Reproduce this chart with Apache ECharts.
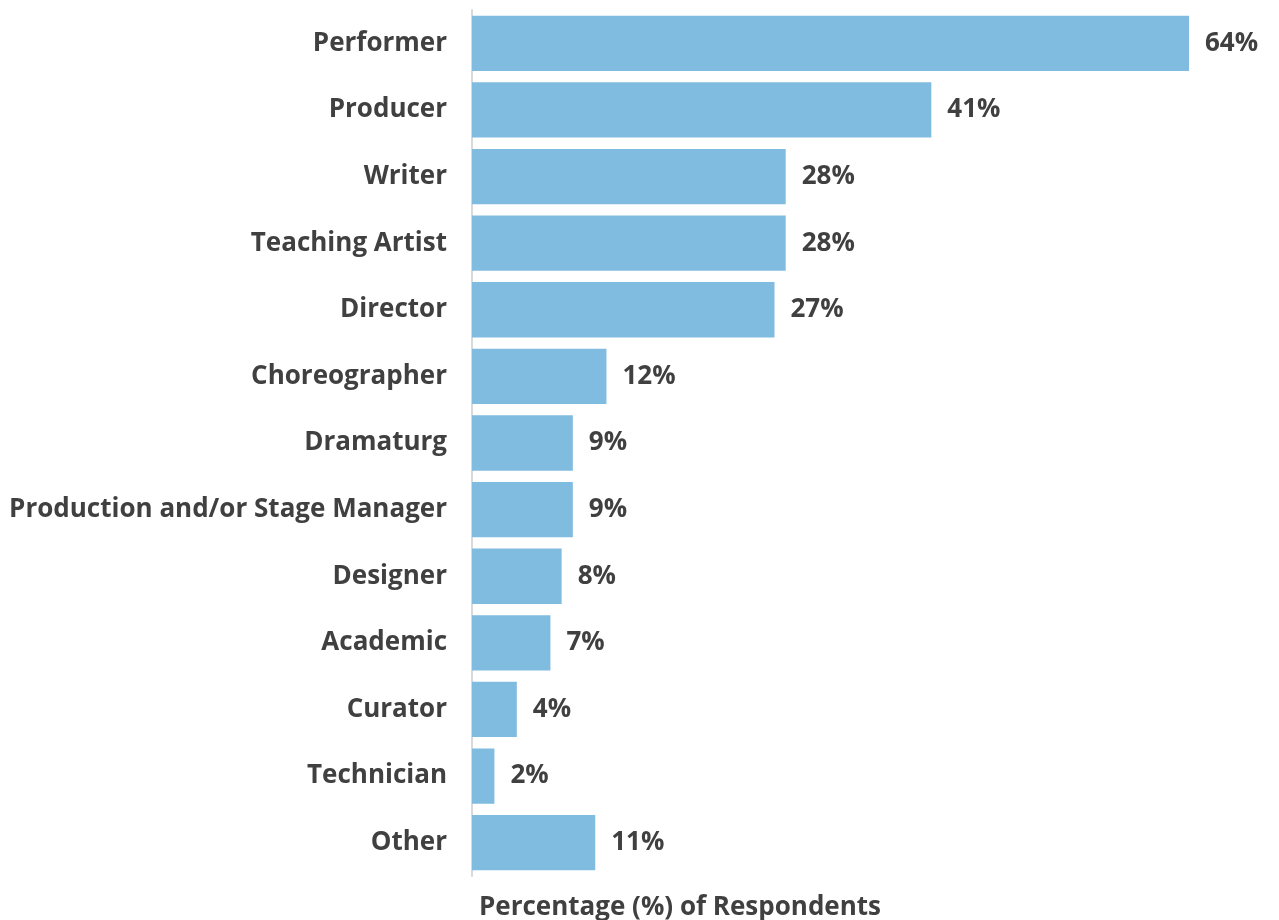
<!DOCTYPE html>
<html>
<head>
<meta charset="utf-8">
<script src="https://cdn.jsdelivr.net/npm/echarts@6/dist/echarts.min.js"></script>
<style>
  html, body { margin: 0; padding: 0; background: #ffffff; }
  #chart { width: 1279px; height: 920px; }
</style>
</head>
<body>
<div id="chart"></div>
<script>
// Roles held by respondents, top to bottom as drawn
const roles = [
  'Performer', 'Producer', 'Writer', 'Teaching Artist', 'Director',
  'Choreographer', 'Dramaturg', 'Production and/or Stage Manager',
  'Designer', 'Academic', 'Curator', 'Technician', 'Other'
];
const shares = [64, 41, 28, 28, 27, 12, 9, 9, 8, 7, 4, 2, 11];
const axisTitle = 'Percentage (%) of Respondents';

const textColor = '#404040';
const fontFamily = '"Open Sans", Roboto, sans-serif';
const fontSize = 26;
const fontWeight = 'bold';

const chart = echarts.init(document.getElementById('chart'));
chart.setOption({
  animation: false,
  backgroundColor: '#ffffff',
  grid: {
    left: 472, right: 90, top: 10, bottom: 44,
    containLabel: false,
    outerBoundsMode: 'none'
  },
  xAxis: {
    type: 'value',
    min: 0,
    max: 64,
    show: false
  },
  yAxis: {
    type: 'category',
    inverse: true,
    data: roles,
    axisLine: { show: true, lineStyle: { color: '#d9d9d9', width: 2 } },
    axisTick: { show: false },
    axisLabel: {
      color: textColor,
      fontFamily: fontFamily,
      fontWeight: fontWeight,
      fontSize: fontSize,
      margin: 25,
      padding: [6, 0, 0, 0]
    }
  },
  title: {
    text: axisTitle,
    left: 474,
    top: 890,
    textStyle: {
      color: textColor,
      fontFamily: fontFamily,
      fontWeight: fontWeight,
      fontSize: fontSize
    }
  },
  series: [{
    type: 'bar',
    data: shares,
    barCategoryGap: '17%',
    itemStyle: { color: '#80bbe0' },
    label: {
      show: true,
      position: 'right',
      distance: 16,
      formatter: '{c}%',
      color: textColor,
      fontFamily: fontFamily,
      fontWeight: fontWeight,
      fontSize: fontSize,
      padding: [6, 0, 0, 0]
    }
  }]
});
</script>
</body>
</html>
